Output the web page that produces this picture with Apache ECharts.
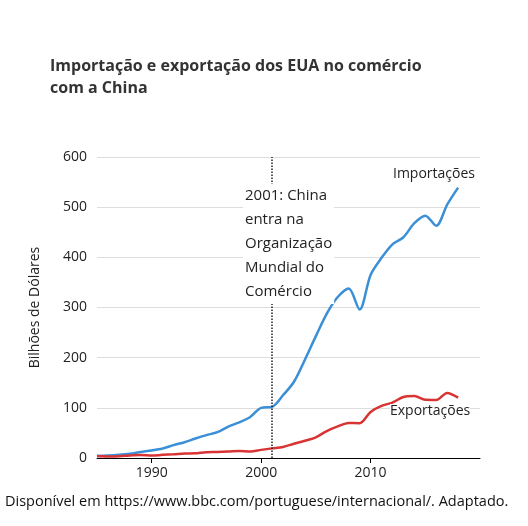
<!DOCTYPE html><html><head><meta charset="utf-8"><script src="https://cdn.jsdelivr.net/npm/echarts@6/dist/echarts.min.js"></script>
<style>body{margin:0}#c{width:528px;height:526px}</style></head><body><div id="c"></div><script>
const years=[1985,1986,1987,1988,1989,1990,1991,1992,1993,1994,1995,1996,1997,1998,1999,2000,2001,2002,2003,2004,2005,2006,2007,2008,2009,2010,2011,2012,2013,2014,2015,2016,2017,2018];
const imports=[3.9,4.8,6.3,8.5,12,15,19,25.7,31.5,38.8,45.5,51.5,62.6,71.2,81.8,100,102,125,152,196,243,288,321,338,296,365,399,426,440,468,483,463,505,539];
const exports_=[3.9,3.1,3.5,5,5.8,4.8,6.3,7.4,8.8,9.3,11.7,12,12.9,14.2,13.1,16.2,19.2,22.1,28.4,34.4,41.2,53.7,62.9,69.7,69.5,91.9,103.9,110.5,121.7,123.7,115.9,115.6,129.8,120.3];
const xTicks=[1990,2000,2010];
const F='"Open Sans", sans-serif';
const c=echarts.init(document.getElementById('c'));
c.setOption({animation:false,
title:{text:'Importação e exportação dos EUA no comércio\ncom a China',left:45,top:50,textStyle:{fontFamily:F,fontSize:16,fontWeight:'bold',color:'#333',lineHeight:22}},
grid:{left:97,right:48,top:157,bottom:68},
xAxis:{type:'value',min:1985,max:2020,axisLine:{lineStyle:{color:'#000'}},splitLine:{show:false},
 axisTick:{customValues:xTicks,length:5,lineStyle:{color:'#000'}},axisLabel:{customValues:xTicks,formatter:v=>String(v),fontFamily:F,fontSize:14,color:'#222'}},
yAxis:{type:'value',min:0,max:600,interval:100,name:'Bilhões de Dólares',nameLocation:'middle',nameGap:55,nameTextStyle:{fontFamily:F,fontSize:14,color:'#222'},
 axisLine:{show:false},axisTick:{show:false},axisLabel:{fontFamily:F,fontSize:14,color:'#222',margin:10},splitLine:{lineStyle:{color:'#ddd'}}},
series:[
{type:'line',data:years.map((y,i)=>[y,imports[i]]),smooth:0.3,showSymbol:false,lineStyle:{color:'#3a8fd6',width:2.5},
 markLine:{symbol:'none',silent:true,label:{show:false},lineStyle:{color:'#222',type:'dotted',width:1.5},data:[[{coord:[2001,0]},{coord:[2001,600]}]]}},
{type:'line',data:years.map((y,i)=>[y,exports_[i]]),smooth:0.3,showSymbol:false,lineStyle:{color:'#d93434',width:2.5}}
],
graphic:[
{type:'text',left:243,top:184,z:100,style:{text:'2001: China\nentra na\nOrganização\nMundial do\nComércio',fontFamily:F,fontSize:15,lineHeight:24,fill:'#222',backgroundColor:'#fff',padding:[0,2]}},
{type:'text',left:393,top:167,style:{text:'Importações',fontFamily:F,fontSize:14,fill:'#222'}},
{type:'text',left:390,top:404,z:100,style:{text:'Exportações',fontFamily:F,fontSize:14,fill:'#222',backgroundColor:'#fff'}},
{type:'text',left:5,top:494,style:{text:'Disponível em https://www.bbc.com/portuguese/internacional/. Adaptado.',fontFamily:F,fontSize:14.5,fill:'#111'}}
]});
</script></body></html>
